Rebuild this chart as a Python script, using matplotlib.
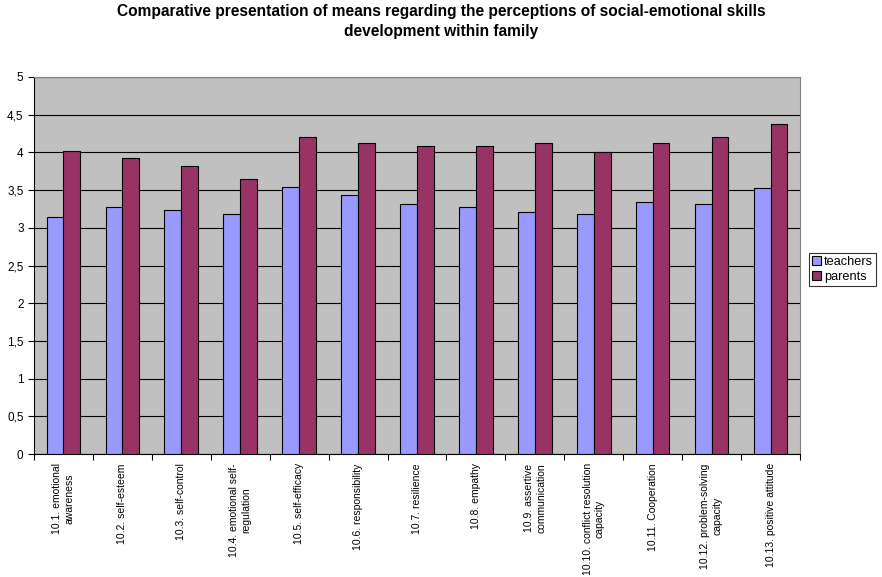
import numpy as np
import matplotlib
matplotlib.use("Agg")
import matplotlib.pyplot as plt
from matplotlib.ticker import FuncFormatter, MultipleLocator

plt.rcParams["font.family"] = ["Liberation Sans", "DejaVu Sans"]

# mean scores per skill, teachers vs parents
skills = [
    "10.1. emotional\nawareness",
    "10.2. self-esteem",
    "10.3. self-control",
    "10.4. emotional self-\nregulation",
    "10.5. self-efficacy",
    "10.6. responsibility",
    "10.7. resilience",
    "10.8. empathy",
    "10.9. assertive\ncommunication",
    "10.10. conflict resolution\ncapacity",
    "10.11. Cooperation",
    "10.12. problem-solving\ncapacity",
    "10.13. positive attitude",
]
teachers = [3.15, 3.28, 3.24, 3.18, 3.54, 3.44, 3.32, 3.28, 3.21, 3.18, 3.34, 3.31, 3.53]
parents = [4.02, 3.92, 3.82, 3.65, 4.21, 4.12, 4.08, 4.08, 4.12, 4.01, 4.13, 4.21, 4.38]

fig = plt.figure(figsize=(8.82, 5.77), dpi=100)
ax = fig.add_axes([0.0385, 0.213, 0.8685, 0.6536])

x = np.arange(len(skills))
w = 1 / 3.5
ax.bar(x - w / 2, teachers, w, color="#9999FF", edgecolor="black", linewidth=0.8,
       label="teachers", zorder=3)
ax.bar(x + w / 2, parents, w, color="#993366", edgecolor="black", linewidth=0.8,
       label="parents", zorder=3)

ax.set_facecolor("#C0C0C0")
ax.set_xlim(-0.5, len(skills) - 0.5)
ax.set_ylim(0, 5)
ax.yaxis.set_major_locator(MultipleLocator(0.5))
ax.yaxis.set_major_formatter(FuncFormatter(lambda v, _: f"{v:g}".replace(".", ",")))
ax.grid(axis="y", color="black", linewidth=0.8, zorder=1)
ax.tick_params(axis="y", labelsize=8.5, direction="out", length=4, width=0.8)

# ticks sit on category boundaries, labels centred under each group
ax.set_xticks(np.arange(len(skills) + 1) - 0.5)
ax.set_xticklabels([])
ax.tick_params(axis="x", direction="out", length=4, width=0.8)
for i, s in enumerate(skills):
    ax.text(i, -0.12, s, rotation=90, ha="center", va="top", fontsize=7.5,
            multialignment="center", linespacing=1.3, transform=ax.transData)

for side in ("top", "right"):
    ax.spines[side].set_color("#808080")
for side in ("left", "bottom"):
    ax.spines[side].set_color("black")

fig.suptitle("Comparative presentation of means regarding the perceptions of social-emotional skills\n"
             "development within family", fontsize=11.2, fontweight="bold", y=0.993,
             linespacing=1.45)

leg = ax.legend(loc="center left", bbox_to_anchor=(1.012, 0.49), fontsize=9.2,
                frameon=True, fancybox=False, borderpad=0.25, handlelength=0.7,
                handletextpad=0.2, labelspacing=0.2, borderaxespad=0)
leg.get_frame().set_edgecolor("black")
leg.get_frame().set_linewidth(0.8)

fig.savefig("out.png", dpi=100, facecolor="white")
